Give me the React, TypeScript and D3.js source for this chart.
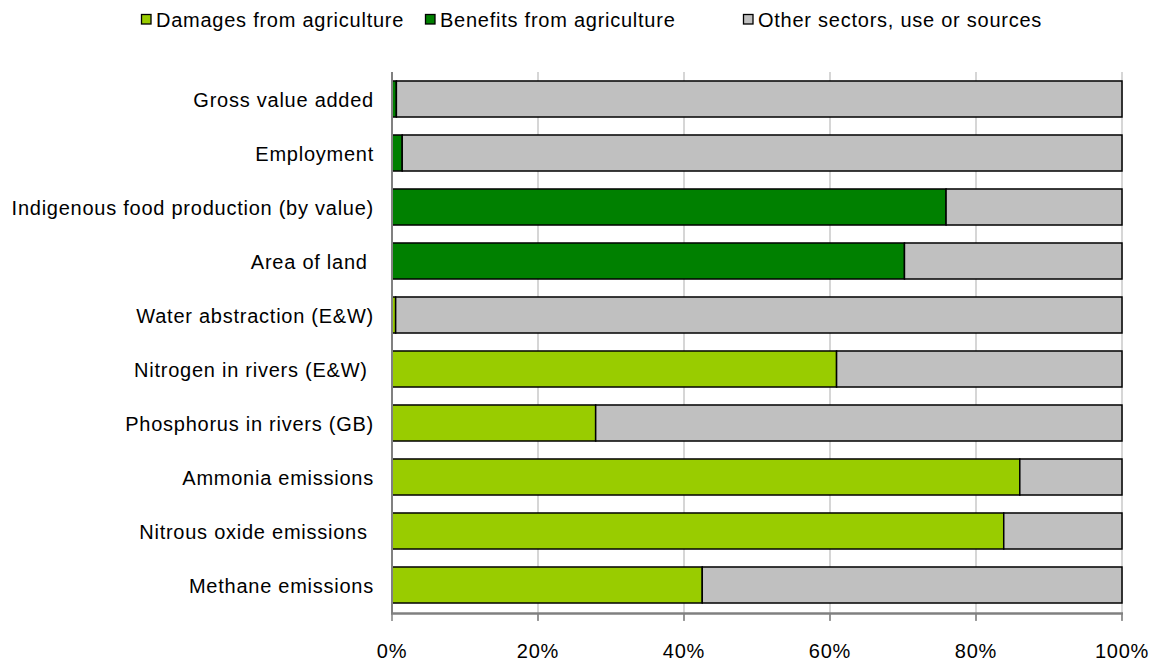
import React from "react";
import * as d3 from "d3";

const categories = [
  "Gross value added",
  "Employment",
  "Indigenous food production (by value)",
  "Area of land ",
  "Water abstraction (E&W)",
  "Nitrogen in rivers (E&W) ",
  "Phosphorus in rivers (GB)",
  "Ammonia emissions",
  "Nitrous oxide emissions ",
  "Methane emissions",
];
const damages = [0, 0, 0, 0, 0.5, 60.9, 27.9, 86.0, 83.8, 42.5];
const benefits = [0.6, 1.4, 75.9, 70.2, 0, 0, 0, 0, 0, 0];
const seriesNames = ["Damages from agriculture", "Benefits from agriculture", "Other sectors, use or sources"];
const seriesColors = ["#99CC00", "#008000", "#C0C0C0"];
const tickValues = [0, 20, 40, 60, 80, 100];

const W = 1155;
const H = 664;
const FONT = "'Liberation Sans', Arial, sans-serif";
const FS = 20;
const LS = 0.75;

export default function App() {
  const x = d3.scaleLinear().domain([0, 100]).range([392, 1122]);
  const y = d3.scaleBand<string>().domain(categories).range([72, 612]).paddingInner(0.333).paddingOuter(0.1665);

  const rows = categories.map((c, i) => {
    const d = damages[i];
    const b = benefits[i];
    const o = 100 - d - b;
    return { c, segs: [ [0, d, 0], [d, d + b, 1], [d + b, d + b + o, 2] ] };
  });

  const legendX = [141, 425, 743];

  return (
    <svg width={W} height={H} style={{ display: "block", position: "absolute", left: 0, top: 0 }} fontFamily={FONT}>
      <rect width={W} height={H} fill="#fff" />
      {/* legend */}
      {seriesNames.map((n, i) => (
        <g key={n}>
          <rect x={legendX[i] + 0.5} y={14.5} width={9.5} height={9.5} fill={seriesColors[i]} stroke="#000" strokeWidth={1.3} />
          <text x={legendX[i] + 15} y={27} fontSize={FS} letterSpacing={LS} fill="#000">{n}</text>
        </g>
      ))}
      {/* gridlines */}
      {tickValues.slice(1).map((t) => (
        <line key={t} x1={x(t)} x2={x(t)} y1={72} y2={620} stroke="#C8C8C8" strokeWidth={1.5} />
      ))}
      {/* bars */}
      {rows.map((r) => (
        <g key={r.c}>
          {r.segs.filter((s) => s[1] - s[0] > 0).map((s, j) => (
            <rect key={j} x={x(s[0])} y={y(r.c)!} width={x(s[1]) - x(s[0])} height={y.bandwidth()}
              fill={seriesColors[s[2]]} stroke="#000" strokeWidth={1.5} />
          ))}
        </g>
      ))}
      {/* axes */}
      <line x1={392} x2={392} y1={72} y2={614} stroke="#808080" strokeWidth={2} />
      <line x1={391} x2={1123} y1={613.5} y2={613.5} stroke="#808080" strokeWidth={2.5} />
      {tickValues.map((t) => (
        <line key={"t" + t} x1={x(t)} x2={x(t)} y1={613} y2={621} stroke="#808080" strokeWidth={1.5} />
      ))}
      {tickValues.map((t) => (
        <text key={"l" + t} x={x(t)} y={658} textAnchor="middle" fontSize={FS} letterSpacing={LS}>{t + "%"}</text>
      ))}
      {/* category labels */}
      {categories.map((c) => (
        <text key={c} x={374} y={y(c)! + y.bandwidth() / 2 + 8} textAnchor="end" fontSize={FS}
          letterSpacing={LS} style={{ whiteSpace: "pre" }}>{c}</text>
      ))}
    </svg>
  );
}
